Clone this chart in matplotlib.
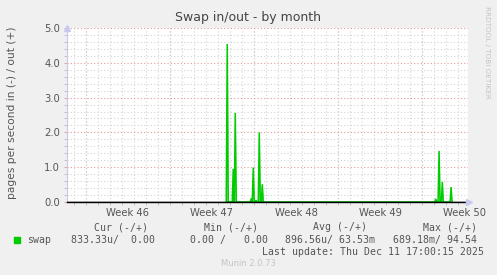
import matplotlib
matplotlib.use('Agg')
import matplotlib.pyplot as plt
from matplotlib.patches import Rectangle
from matplotlib.ticker import FixedLocator, MultipleLocator

# ---- data ----
week_labels = ['Week 46', 'Week 47', 'Week 48', 'Week 49', 'Week 50']
week_starts = [0, 7, 14, 21, 28]          # days since Mon 10 Nov 2025
spike_days = [11.77, 12.27, 12.44, 13.77, 13.94, 14.17, 14.44, 14.69,
              29.14, 29.42, 29.69, 30.42]
spike_vals = [4.54, 0.95, 2.56, 0.10, 0.99, 0.05, 2.00, 0.51,
              0.09, 1.47, 0.58, 0.43]
x_range = (-1.58, 31.83)
y_ticks = [0.0, 1.0, 2.0, 3.0, 4.0, 5.0]
series_name = 'swap'
legend_headers = ['Cur (-/+)', 'Min (-/+)', 'Avg (-/+)', 'Max (-/+)']
legend_values = ['833.33u/  0.00', '0.00 /   0.00', '896.56u/ 63.53m', '689.18m/ 94.54']
last_update = 'Last update: Thu Dec 11 17:00:15 2025'
title = 'Swap in/out - by month'
ylabel = 'pages per second in (-) / out (+)'

W, H = 497, 275
BG = '#f0f0f0'
fig = plt.figure(figsize=(W / 100, H / 100), dpi=100, facecolor=BG)

def fx(px):
    return px / W

def fy(py):
    return 1 - py / H

L, R, T, B = 67, 468, 28, 202
ax = fig.add_axes([fx(L), fy(B), (R - L) / W, (B - T) / H])
ax.set_facecolor('white')

# spikes at 2-hour resolution
step = 1 / 12
xs, ys = [], []
for d, v in zip(spike_days, spike_vals):
    xs += [d - step, d, d + step]
    ys += [0, v, 0]
ax.fill_between(xs, ys, 0, color='#00cc00', alpha=0.35, lw=0)
ax.plot(xs, ys, color='#00cc00', lw=1.1, solid_joinstyle='miter')

ax.set_xlim(*x_range)
ax.set_ylim(0, 5)

# grids
ax.set_yticks(y_ticks)
ax.set_yticklabels(['%.1f' % v for v in y_ticks])
ax.yaxis.set_minor_locator(MultipleLocator(0.2))
ax.set_xticks([w + 3.5 for w in week_starts])
ax.set_xticklabels(week_labels)
ax.xaxis.set_minor_locator(FixedLocator(list(range(-1, 32))))
ax.grid(which='minor', color='#d4d4d4', linestyle=(0, (1, 2)), lw=0.8)
ax.grid(which='major', axis='y', color='#e49a9a', linestyle=(0, (1, 2)), lw=0.8)
for w in week_starts:
    ax.axvline(w, color='#e49a9a', linestyle=(0, (1, 2)), lw=0.8, zorder=0.5)
ax.set_axisbelow(True)

ax.tick_params(axis='x', which='major', length=0, pad=4, labelsize=7.2, labelcolor='#555555')
ax.tick_params(axis='y', which='major', length=2, pad=3, labelsize=7.2, labelcolor='#555555', color='#e8a8a8')
ax.tick_params(which='minor', length=2, color='#bbbbbb')

for s in ['top', 'right']:
    ax.spines[s].set_visible(False)
ax.spines['left'].set_color('#c8c8f0')
ax.spines['bottom'].set_color('black')
ax.spines['bottom'].set_linewidth(1.0)
ax.axhline(0, color='black', lw=1.0, zorder=5)
ax.plot([x_range[0]], [5.0], marker='^', ms=4, color='#c8c8f0', clip_on=False, zorder=6)
ax.plot([x_range[1] + 0.1], [0.0], marker='>', ms=4, color='#c8c8f0', clip_on=False, zorder=6)

# texts
fig.text(fx(248), fy(18), title, ha='center', va='center', fontsize=9, color='#444444')
fig.text(fx(12), fy(113), ylabel, rotation=90, ha='center', va='center', fontsize=7.7, color='#555555')
fig.text(fx(487), fy(52), 'RRDTOOL / TOBI OETIKER', rotation=270, ha='center', va='center',
         fontsize=5.2, color='#c4c4c4')

mono = dict(family='DejaVu Sans Mono', fontsize=7.1, color='#555555', va='center', ha='left')
for hx, h in zip([94, 204, 313, 423], legend_headers):
    fig.text(fx(hx), fy(227), h, **mono)
fig.patches.append(Rectangle((fx(14), fy(243)), 6 / W, 6 / H, transform=fig.transFigure,
                             color='#00cc00', figure=fig))
fig.text(fx(27), fy(240), series_name, **mono)
for vx, v in zip([71, 190, 285, 393], legend_values):
    fig.text(fx(vx), fy(240), v, **mono)
fig.text(fx(262), fy(252), last_update, **mono)
fig.text(fx(248), fy(264), 'Munin 2.0.73', ha='center', va='center', fontsize=6, color='#c4c4c4')

fig.savefig('out.png', dpi=100, facecolor=BG)
